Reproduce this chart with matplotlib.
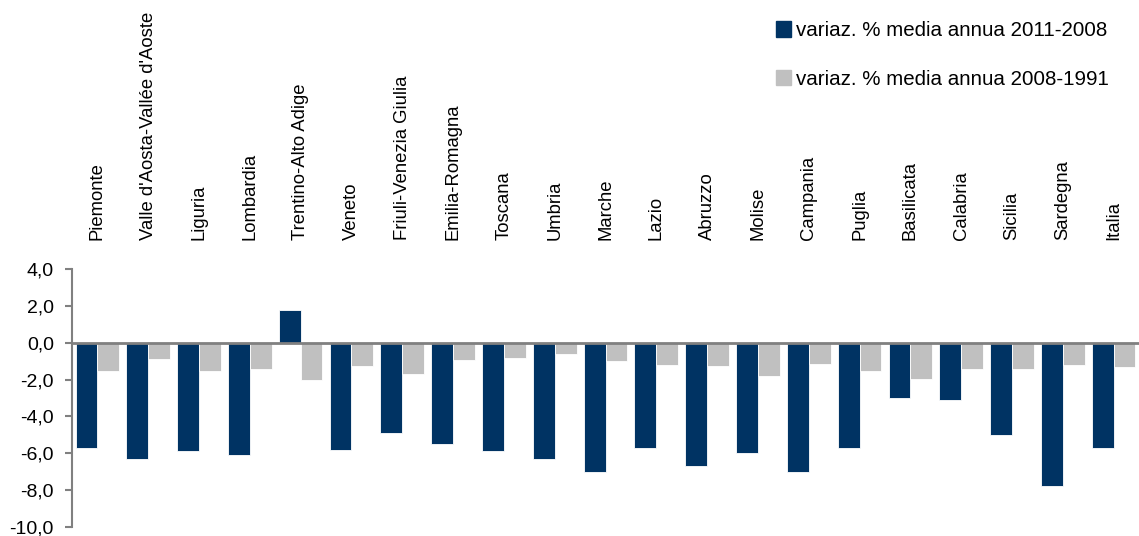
import numpy as np
import matplotlib
matplotlib.use("Agg")
import matplotlib.pyplot as plt
from matplotlib.patches import Patch

plt.rcParams["font.family"] = ["Liberation Sans", "DejaVu Sans"]

REGIONS = ["Piemonte", "Valle d'Aosta-Vallée d'Aoste", "Liguria", "Lombardia",
           "Trentino-Alto Adige", "Veneto", "Friuli-Venezia Giulia",
           "Emilia-Romagna", "Toscana", "Umbria", "Marche", "Lazio", "Abruzzo",
           "Molise", "Campania", "Puglia", "Basilicata", "Calabria", "Sicilia",
           "Sardegna", "Italia"]
VAR_2011_2008 = [-5.7, -6.3, -5.9, -6.1, 1.8, -5.8, -4.9, -5.5, -5.9, -6.3,
                 -7.0, -5.7, -6.7, -6.0, -7.0, -5.7, -3.0, -3.1, -5.0, -7.8, -5.7]
VAR_2008_1991 = [-1.55, -0.9, -1.55, -1.4, -2.0, -1.25, -1.7, -0.95, -0.85, -0.6,
                 -1.0, -1.2, -1.25, -1.8, -1.15, -1.55, -1.95, -1.45, -1.4, -1.2, -1.3]
LABELS = ["variaz. % media annua 2011-2008", "variaz. % media annua 2008-1991"]
YTICKS = [4, 2, 0, -2, -4, -6, -8, -10]

DARK = "#003363"
LIGHT = "#C0C0C0"
AXIS = "#808080"

W, H = 1139, 536
fig = plt.figure(figsize=(W / 100, H / 100), dpi=100)
# axes spans y from 269px (4,0) to 527px (-10,0)
ax = fig.add_axes([72 / W, 1 - 527 / H, 1 - 72 / W, (527 - 269) / H])

x = np.arange(len(REGIONS))
w = 0.43
ax.bar(x - w / 2, VAR_2011_2008, w, color=DARK, edgecolor="white", linewidth=0.6)
ax.bar(x + w / 2, VAR_2008_1991, w, color=LIGHT, edgecolor="white", linewidth=0.6)

ax.set_xlim(-0.5, len(REGIONS) - 0.5)
ax.set_ylim(-10, 4)
ax.axhline(0, color=AXIS, lw=2, zorder=3)
ax.set_yticks(YTICKS)
ax.set_yticklabels([f"{v:.1f}".replace(".", ",") for v in YTICKS], fontsize=14)
ax.tick_params(axis="y", direction="out", length=5, width=1.5, color=AXIS, pad=8)
ax.set_xticks([])
for s in ["top", "right", "bottom"]:
    ax.spines[s].set_visible(False)
ax.spines["left"].set_color(AXIS)
ax.spines["left"].set_linewidth(1.5)

for i, name in enumerate(REGIONS):
    ax.annotate(name, xy=(i, 1), xycoords=("data", "axes fraction"),
                xytext=(0, 21), textcoords="offset points",
                rotation=90, ha="center", va="bottom", fontsize=13.3)

handles = [Patch(color=DARK), Patch(color=LIGHT)]
fig.legend(handles, LABELS, loc="upper right", bbox_to_anchor=(0.99, 0.995),
           frameon=False, fontsize=14.8, handlelength=0.75, handleheight=0.75,
           handletextpad=0.25, labelspacing=1.45)

fig.savefig("out.png", dpi=100)
